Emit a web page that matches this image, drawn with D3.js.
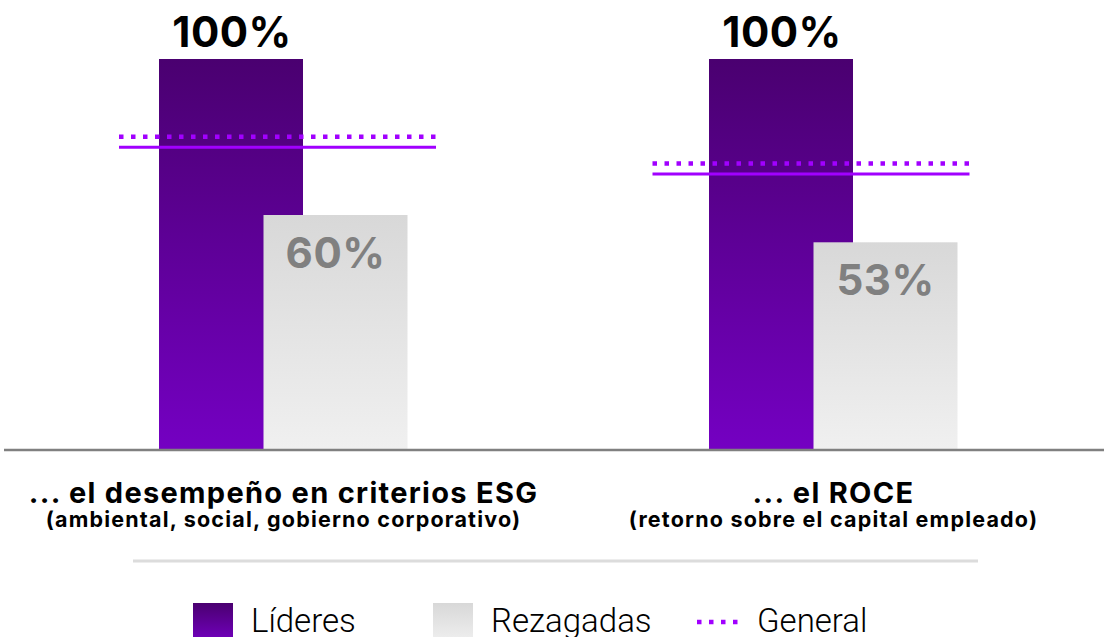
<!DOCTYPE html>
<html lang="es">
    <head>
        <title>Líderes vs Rezagadas</title>
        <script src="https://d3js.org/d3.v7.min.js"></script>
        <style>
            body { margin: 0; background: #fff; }
        </style>
    </head>
    <body>
    <div id="mainDiv"></div>

        <script type="text/javascript">
            // data
            const categories = ['esg', 'roce']
            const titles = ['... el desempeño en criterios ESG', '... el ROCE']
            const subtitles = ['(ambiental, social, gobierno corporativo)', '(retorno sobre el capital empleado)']
            const series = ['Líderes', 'Rezagadas']
            const lideres = [100, 100]
            const rezagadas = [60, 53]
            const general = [77.4, 70.5]

            const width = 1104
            const height = 637
            const baseline = 449
            const barWidth = 144

            const svg = d3.select('#mainDiv').append('svg')
                .attr('width', width)
                .attr('height', height)
                .style('font-family', 'Inter, "Noto Sans", sans-serif')

            const defs = svg.append('defs')
            const grad = (id, top, bottom) => {
                const g = defs.append('linearGradient')
                    .attr('id', id)
                    .attr('x1', 0).attr('y1', 0).attr('x2', 0).attr('y2', 1)
                g.append('stop').attr('offset', '0%').attr('stop-color', top)
                g.append('stop').attr('offset', '100%').attr('stop-color', bottom)
            }
            grad('gradLideres', '#4a0070', '#7400c2')
            grad('gradRezagadas', '#d8d8d8', '#f0f0f0')
            const fills = { 'Líderes': 'url(#gradLideres)', 'Rezagadas': 'url(#gradRezagadas)' }

            const xGroup = d3.scalePoint()
                .domain(categories)
                .range([8.5, 1108.5])
                .padding(0.5)

            // the "general" reference lines sit on a slightly different spacing
            const xLine = d3.scalePoint()
                .domain(categories)
                .range([10.75, 1077.75])
                .padding(0.5)
            const lineWidth = 317

            const xSeries = d3.scalePoint()
                .domain(series)
                .range([-52.5, 52])

            const yScale = d3.scaleLinear()
                .domain([0, 100])
                .range([baseline, 59])

            const rows = categories.map((c, i) => ({
                cat: c,
                title: titles[i],
                subtitle: subtitles[i],
                values: [
                    { s: 'Líderes', v: lideres[i] },
                    { s: 'Rezagadas', v: rezagadas[i] }
                ],
                general: general[i]
            }))

            const groups = svg.selectAll('g.group')
                .data(rows)
                .join('g')
                .attr('class', 'group')
                .attr('transform', d => `translate(${xGroup(d.cat)},0)`)

            // bars (gray drawn after purple so it overlaps)
            groups.selectAll('rect.bar')
                .data(d => d.values)
                .join('rect')
                .attr('class', 'bar')
                .attr('x', d => xSeries(d.s) - barWidth / 2)
                .attr('y', d => yScale(d.v))
                .attr('width', barWidth)
                .attr('height', d => baseline - yScale(d.v))
                .attr('fill', d => fills[d.s])

            // value labels
            groups.append('text')
                .attr('x', xSeries('Líderes') + 1)
                .attr('y', d => yScale(d.values[0].v) - 12)
                .attr('text-anchor', 'middle')
                .attr('font-size', 42)
                .attr('font-weight', 700)
                .attr('letter-spacing', 0.5)
                .attr('fill', '#000')
                .text(d => d.values[0].v + '%')

            groups.append('text')
                .attr('x', xSeries('Rezagadas'))
                .attr('y', d => yScale(d.values[1].v) + 53)
                .attr('text-anchor', 'middle')
                .attr('font-size', 42)
                .attr('font-weight', 700)
                .attr('letter-spacing', 0.5)
                .attr('fill', '#808080')
                .text(d => d.values[1].v + '%')

            // general lines: solid line plus dotted companion just above
            const lines = svg.selectAll('g.general')
                .data(rows)
                .join('g')
                .attr('class', 'general')
                .attr('transform', d => `translate(${xLine(d.cat)},0)`)

            lines.append('line')
                .attr('x1', -lineWidth / 2).attr('x2', lineWidth / 2)
                .attr('y1', d => yScale(d.general))
                .attr('y2', d => yScale(d.general))
                .attr('stroke', '#a100ff')
                .attr('stroke-width', 3)

            lines.append('line')
                .attr('x1', -lineWidth / 2).attr('x2', lineWidth / 2)
                .attr('y1', d => yScale(d.general) - 10.5)
                .attr('y2', d => yScale(d.general) - 10.5)
                .attr('stroke', '#a100ff')
                .attr('stroke-width', 4.5)
                .attr('stroke-dasharray', '4.5,7.5')

            // category labels
            groups.append('text')
                .attr('y', 503)
                .attr('text-anchor', 'middle')
                .attr('font-size', 29)
                .attr('font-weight', 700)
                .attr('letter-spacing', 1.3)
                .attr('fill', '#000')
                .text(d => d.title)

            groups.append('text')
                .attr('y', 527)
                .attr('text-anchor', 'middle')
                .attr('font-size', 21.5)
                .attr('font-weight', 700)
                .attr('letter-spacing', 1.2)
                .attr('fill', '#000')
                .text(d => d.subtitle)

            // baseline axis
            svg.append('line')
                .attr('x1', 4).attr('x2', width)
                .attr('y1', baseline + 1).attr('y2', baseline + 1)
                .attr('stroke', '#808080')
                .attr('stroke-width', 2.5)

            // separator
            svg.append('line')
                .attr('x1', 133).attr('x2', 978)
                .attr('y1', 561).attr('y2', 561)
                .attr('stroke', '#dcdcdc')
                .attr('stroke-width', 3)

            // legend
            const legend = svg.append('g')
                .style('font-family', 'Roboto, sans-serif')
                .attr('font-weight', 300)
                .attr('font-size', 33)
            const legendItems = [
                { label: 'Líderes', x: 193, type: 'rect', fill: fills['Líderes'] },
                { label: 'Rezagadas', x: 433, type: 'rect', fill: fills['Rezagadas'] },
                { label: 'General', x: 697, type: 'line' }
            ]
            legendItems.forEach(it => {
                if (it.type === 'rect') {
                    legend.append('rect')
                        .attr('x', it.x).attr('y', 603)
                        .attr('width', 40).attr('height', 40)
                        .attr('fill', it.fill)
                    legend.append('text')
                        .attr('x', it.x + 58).attr('y', 632)
                        .attr('fill', '#000')
                        .text(it.label)
                } else {
                    legend.append('line')
                        .attr('x1', it.x).attr('x2', it.x + 45)
                        .attr('y1', 622).attr('y2', 622)
                        .attr('stroke', '#a100ff')
                        .attr('stroke-width', 4.5)
                        .attr('stroke-dasharray', '4.5,7.5')
                    legend.append('text')
                        .attr('x', it.x + 60).attr('y', 632)
                        .attr('fill', '#000')
                        .text(it.label)
                }
            })
        </script>
    </body>
</html>
